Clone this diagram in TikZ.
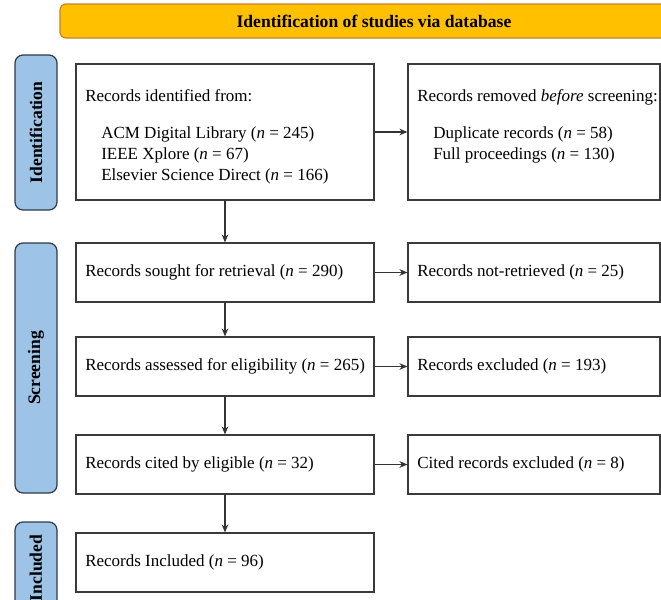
\documentclass[tikz,border=0pt]{standalone}
\usepackage{fontspec}
\setmainfont{Liberation Serif}
\usetikzlibrary{arrows.meta}
\definecolor{bannerfill}{HTML}{FFC000}
\definecolor{bannerline}{HTML}{C9822B}
\definecolor{phasefill}{HTML}{9DC3E6}
\definecolor{phaseline}{HTML}{2E3A48}
\definecolor{boxline}{HTML}{3A3A3A}
\begin{document}
\begin{tikzpicture}[x=0.75pt,y=-0.75pt,
  box/.style={draw=boxline, line width=0.9pt, fill=white, rectangle, inner sep=0pt},
  leftbox/.style={box, minimum width=298*0.75pt},
  rightbox/.style={box, minimum width=252*0.75pt},
  txt/.style={inner sep=0pt, font=\fontsize{12.75}{15}\selectfont},
  phase/.style={draw=phaseline, fill=phasefill, rounded corners=6pt, line width=0.9pt,
    inner sep=0pt, minimum width=42*0.75pt},
  phasetxt/.style={inner sep=0pt, rotate=90, font=\fontsize{13.2}{15}\selectfont\bfseries},
  flow/.style={-{Stealth[length=6pt,width=5pt]}, line width=0.8pt, draw=black!80}]
\useasboundingbox (0,0) rectangle (661,600);
\clip (0,0) rectangle (661,600);

% title banner
\node[draw=bannerline, fill=bannerfill, rounded corners=4pt, line width=0.9pt,
  minimum width=628*0.75pt, minimum height=34*0.75pt, inner sep=0pt,
  font=\fontsize{13.2}{15}\selectfont\bfseries] (banner) at (374,21)
  {Identification of studies via database};

% phase bars
\node[phase, minimum height=155*0.75pt] (ph-id) at (36,132.5) {};
\node[phasetxt] (ph-id-t) at (ph-id.center) {Identification};
\node[phase, minimum height=250*0.75pt] (ph-scr) at (36,368) {};
\node[phasetxt] (ph-scr-t) at (ph-scr.center) {Screening};
\node[phase, minimum height=92*0.75pt] (ph-inc) at (36,568) {};
\node[phasetxt] (ph-inc-t) at (ph-inc.center) {Included};

% identification
\node[leftbox, minimum height=136*0.75pt] (ident) at (225,132) {};
\node[txt, anchor=base west] (ident-h) at (85,101) {Records identified from:};
\node[txt, anchor=base west] (ident-a) at (101,138) {ACM Digital Library (\textit{n} = 245)};
\node[txt, anchor=base west] (ident-b) at (101,159) {IEEE Xplore (\textit{n} = 67)};
\node[txt, anchor=base west] (ident-c) at (101,180) {Elsevier Science Direct (\textit{n} = 166)};

\node[rightbox, minimum height=136*0.75pt] (removed) at (534,132) {};
\node[txt, anchor=base west] (removed-h) at (417,101) {Records removed \textit{before} screening:};
\node[txt, anchor=base west] (removed-a) at (433,138) {Duplicate records (\textit{n} = 58)};
\node[txt, anchor=base west] (removed-b) at (433,159) {Full proceedings (\textit{n} = 130)};

% screening
\node[leftbox, minimum height=59*0.75pt] (sought) at (225,272.5) {};
\node[txt, anchor=west] (sought-t) at (85,272.5) {Records sought for retrieval (\textit{n} = 290)};
\node[rightbox, minimum height=59*0.75pt] (notret) at (534,272.5) {};
\node[txt, anchor=west] (notret-t) at (417,272.5) {Records not-retrieved (\textit{n} = 25)};

\node[leftbox, minimum height=59*0.75pt] (assess) at (225,366.5) {};
\node[txt, anchor=west] (assess-t) at (85,366.5) {Records assessed for eligibility (\textit{n} = 265)};
\node[rightbox, minimum height=59*0.75pt] (excl) at (534,366.5) {};
\node[txt, anchor=west] (excl-t) at (417,366.5) {Records excluded (\textit{n} = 193)};

\node[leftbox, minimum height=59*0.75pt] (cited) at (225,464.5) {};
\node[txt, anchor=west] (cited-t) at (85,464.5) {Records cited by eligible (\textit{n} = 32)};
\node[rightbox, minimum height=59*0.75pt] (citedex) at (534,464.5) {};
\node[txt, anchor=west] (citedex-t) at (417,464.5) {Cited records excluded (\textit{n} = 8)};

% included
\node[leftbox, minimum height=59*0.75pt] (incl) at (225,562.5) {};
\node[txt, anchor=west] (incl-t) at (85,562.5) {Records Included (\textit{n} = 96)};

% connectors
\draw[flow] (ident.east) -- (removed.west);
\draw[flow] (sought.east) -- (notret.west);
\draw[flow] (assess.east) -- (excl.west);
\draw[flow] (cited.east) -- (citedex.west);
\draw[flow] (ident.south) -- (sought.north);
\draw[flow] (sought.south) -- (assess.north);
\draw[flow] (assess.south) -- (cited.north);
\draw[flow] (cited.south) -- (incl.north);
\end{tikzpicture}
\end{document}
